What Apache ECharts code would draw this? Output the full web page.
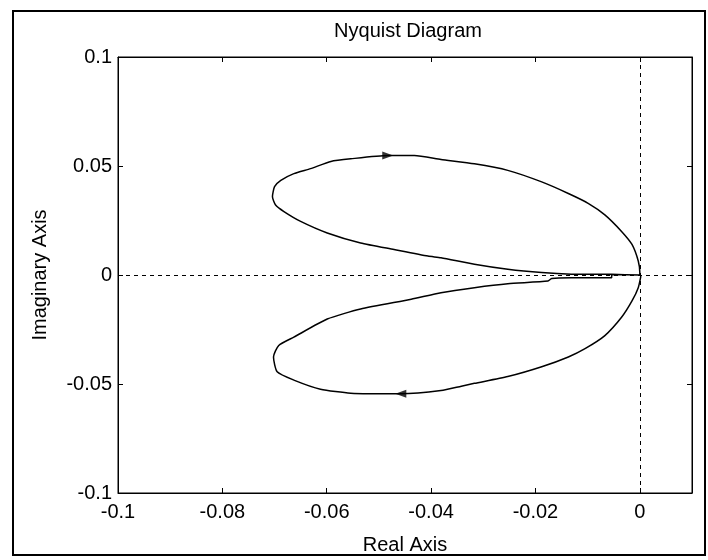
<!DOCTYPE html>
<html>
<head>
<meta charset="utf-8">
<title>Nyquist Diagram</title>
<script src="https://cdn.jsdelivr.net/npm/echarts@6/dist/echarts.min.js"></script>
<style>
    html, body { margin: 0; padding: 0; background: #fff; }
    #chart { width: 708px; height: 560px; }
</style>
</head>
<body>
<div id="chart"></div>
<script>
// tick values
const realTicks = [-0.1, -0.08, -0.06, -0.04, -0.02, 0];
const imagTicks = [-0.1, -0.05, 0, 0.05, 0.1];

// branch from the origin down round the lower lobe, back in along the real axis
const lowerBranch = [
    [0.0002, -0.0005], [-0.0003, -0.0058], [-0.0015, -0.0119], [-0.0035, -0.0194],
    [-0.0067, -0.0278], [-0.0105, -0.0338], [-0.0137, -0.0376], [-0.0188, -0.0421],
    [-0.0253, -0.0466], [-0.0317, -0.0497], [-0.0342, -0.0510], [-0.0381, -0.0530],
    [-0.0458, -0.0545], [-0.0554, -0.0542], [-0.0612, -0.0524], [-0.0663, -0.0482],
    [-0.0695, -0.0444], [-0.0702, -0.0376], [-0.0692, -0.0323], [-0.0663, -0.0285],
    [-0.0599, -0.0202], [-0.0535, -0.0156], [-0.0438, -0.0111], [-0.0381, -0.0081],
    [-0.0317, -0.0058], [-0.0253, -0.0040], [-0.0176, -0.0028], [-0.0169, -0.0016],
    [-0.0131, -0.0013], [-0.0054, -0.0013], [-0.0054, 0.0002], [0, 0]
];

// mirrored branch: in along the real axis, round the upper lobe, back to the origin
const upperBranch = [
    [0, 0], [-0.0054, 0.0003], [-0.0131, 0.0004], [-0.0188, 0.0011], [-0.0253, 0.0026],
    [-0.0317, 0.0049], [-0.0381, 0.0079], [-0.0406, 0.0087], [-0.0471, 0.0117],
    [-0.0535, 0.0147], [-0.0599, 0.0193], [-0.0650, 0.0246], [-0.0682, 0.0291],
    [-0.0698, 0.0321], [-0.0704, 0.0359], [-0.0700, 0.0405], [-0.0688, 0.0434],
    [-0.0663, 0.0465], [-0.0631, 0.0488], [-0.0592, 0.0521], [-0.0554, 0.0533],
    [-0.0483, 0.0548], [-0.0432, 0.0548], [-0.0381, 0.0530], [-0.0317, 0.0510],
    [-0.0253, 0.0480], [-0.0188, 0.0427], [-0.0137, 0.0374], [-0.0099, 0.0329],
    [-0.0067, 0.0276], [-0.0035, 0.0200], [-0.0015, 0.0140], [-0.0003, 0.0064],
    [0, 0.001], [0, 0]
];

// direction arrows: [re, im, heading]
const arrowPoints = [
    [-0.0483, 0.0548, -90],
    [-0.0458, -0.0545, 90]
];

const font = 'Arial, "Liberation Sans", sans-serif';

const chart = echarts.init(document.getElementById("chart"));

// top / right box axes: ticks only, kept on the grid edge
const sideAxis = {
    type: "value",
    axisLine: { show: true, onZero: false, lineStyle: { color: "#000", width: 1 } },
    axisTick: { show: true, inside: true, length: 5, lineStyle: { color: "#000" } },
    axisLabel: { show: false },
    splitLine: { show: false },
};

chart.setOption({
    animation: false,
    backgroundColor: "#fff",
    textStyle: { fontFamily: font, color: "#000" },
    title: {
        text: "Nyquist Diagram",
        left: 403,
        top: 16,
        textAlign: "center",
        textStyle: { fontFamily: font, fontSize: 20, fontWeight: "normal", color: "#000" },
    },
    graphic: [
        {
            type: "rect",
            silent: true,
            shape: { x: 13, y: 11, width: 692, height: 544 },
            style: { fill: "none", stroke: "#000", lineWidth: 2 },
        },
    ],
    grid: {
        left: 118,
        right: 16,
        top: 57,
        bottom: 62,
        show: true,
        borderColor: "#000",
        borderWidth: 1,
    },
    xAxis: [
        {
            type: "value",
            min: realTicks[0],
            max: 0.01,
            interval: 0.02,
            name: "Real Axis",
            nameLocation: "middle",
            nameGap: 42,
            nameTextStyle: { fontFamily: font, fontSize: 20, color: "#000" },
            axisLine: { show: true, onZero: false, lineStyle: { color: "#000", width: 1 } },
            axisTick: { show: true, inside: true, length: 5, lineStyle: { color: "#000" } },
            axisLabel: {
                margin: 9,
                fontFamily: font,
                fontSize: 20,
                color: "#000",
                showMaxLabel: false,
                formatter: (v) => (realTicks.some((t) => Math.abs(t - v) < 1e-9) ? String(+v.toFixed(2)) : ""),
            },
            splitLine: { show: false },
        },
        Object.assign({}, sideAxis, { position: "top", min: realTicks[0], max: 0.01, interval: 0.02 }),
    ],
    yAxis: [
        {
            type: "value",
            min: imagTicks[0],
            max: imagTicks[imagTicks.length - 1],
            interval: 0.05,
            name: "Imaginary Axis",
            nameLocation: "middle",
            nameGap: 68,
            nameTextStyle: { fontFamily: font, fontSize: 20, color: "#000" },
            axisLine: { show: true, onZero: false, lineStyle: { color: "#000", width: 1 } },
            axisTick: { show: true, inside: true, length: 5, lineStyle: { color: "#000" } },
            axisLabel: { margin: 6, fontFamily: font, fontSize: 20, color: "#000" },
            splitLine: { show: false },
        },
        Object.assign({}, sideAxis, { position: "right", min: -0.1, max: 0.1, interval: 0.05 }),
    ],
    series: [
        {
            name: "Nyquist",
            type: "line",
            data: lowerBranch.concat(upperBranch),
            showSymbol: false,
            symbol: "none",
            smooth: 0.2,
            lineStyle: { color: "#000", width: 1.5 },
            markLine: {
                silent: true,
                symbol: "none",
                label: { show: false },
                lineStyle: { color: "#000", width: 1, type: [4, 4] },
                data: [{ xAxis: 0 }, { yAxis: 0 }],
            },
            z: 3,
        },
        {
            name: "arrows",
            type: "scatter",
            symbol: "triangle",
            symbolSize: [8, 11],
            itemStyle: { color: "#000" },
            data: arrowPoints.map((p) => ({ value: [p[0], p[1]], symbolRotate: p[2] })),
            z: 4,
        },
    ],
});
</script>
</body>
</html>
